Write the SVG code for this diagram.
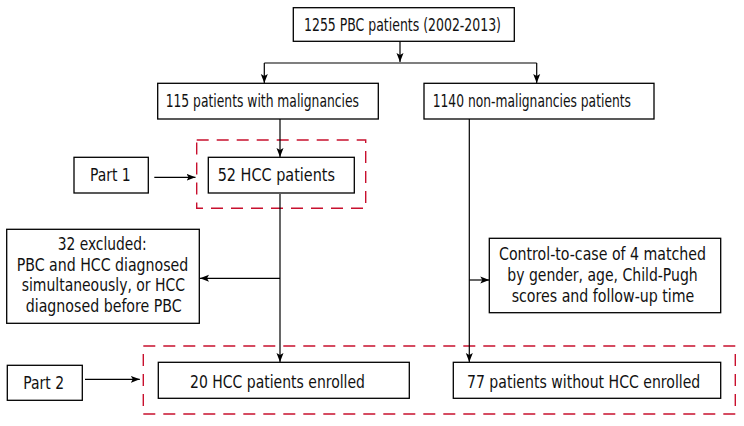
<svg xmlns="http://www.w3.org/2000/svg" width="744" height="426" viewBox="0 0 744 426">
<style>
  .box { fill: #fff; stroke: #000; stroke-width: 1.3; }
  .dash { fill: none; stroke: #c8102e; stroke-width: 1.4; stroke-dasharray: 12 8; }
  .t { font-family: "DejaVu Sans Condensed", "DejaVu Sans", sans-serif; font-stretch: condensed; font-size: 16.8px; fill: #111; }
  .c line { stroke: #000; stroke-width: 1.2; fill: none; }
</style>
<defs>
  <marker id="ah" markerUnits="userSpaceOnUse" markerWidth="10" markerHeight="8" refX="9" refY="4" orient="auto">
    <path d="M0,0.5 L9,4 L0,7.5 L2,4 Z" fill="#000"/>
  </marker>
</defs>
<rect width="744" height="426" fill="#fff"/>

<g id="part1-region">
  <rect class="dash" x="196.7" y="140" width="169" height="68.3"/>
</g>
<g id="part2-region">
  <rect class="dash" x="143.3" y="346" width="592" height="68"/>
</g>

<g class="c" id="connectors">
  <line x1="400" y1="41" x2="400" y2="62" marker-end="url(#ah)"/>
  <line x1="264.3" y1="63" x2="536.7" y2="63"/>
  <line x1="264.3" y1="63" x2="264.3" y2="83" marker-end="url(#ah)"/>
  <line x1="536.7" y1="63" x2="536.7" y2="83" marker-end="url(#ah)"/>
  <line x1="280" y1="119" x2="280" y2="157" marker-end="url(#ah)"/>
  <line x1="154.3" y1="177.3" x2="195.5" y2="177.3" marker-end="url(#ah)"/>
  <line x1="280" y1="194" x2="280" y2="362" marker-end="url(#ah)"/>
  <line x1="280" y1="278.3" x2="200" y2="278.3" marker-end="url(#ah)"/>
  <line x1="469.3" y1="119" x2="469.3" y2="362" marker-end="url(#ah)"/>
  <line x1="469.3" y1="280" x2="489.3" y2="280" marker-end="url(#ah)"/>
  <line x1="85" y1="379.3" x2="139.8" y2="379.3" marker-end="url(#ah)"/>
</g>

<g id="n-total">
  <rect class="box" x="293.3" y="7.7" width="221" height="33.6"/>
  <text class="t" x="304" y="30.7" textLength="197" lengthAdjust="spacingAndGlyphs">1255 PBC patients (2002-2013)</text>
</g>
<g id="n-malig">
  <rect class="box" x="157.7" y="83.3" width="220.6" height="35.7"/>
  <text class="t" x="165.7" y="106.5" textLength="193.3" lengthAdjust="spacingAndGlyphs">115 patients with malignancies</text>
</g>
<g id="n-nonmalig">
  <rect class="box" x="424" y="83.3" width="230" height="35.7"/>
  <text class="t" x="432.7" y="106.5" textLength="198.3" lengthAdjust="spacingAndGlyphs">1140 non-malignancies patients</text>
</g>
<g id="n-part1">
  <rect class="box" x="74" y="157.3" width="74.3" height="35.7"/>
  <text class="t" x="90" y="180.5" textLength="40.7" lengthAdjust="spacingAndGlyphs">Part 1</text>
</g>
<g id="n-hcc52">
  <rect class="box" x="208.3" y="157.3" width="146" height="35.7"/>
  <text class="t" x="217.7" y="181" textLength="117.3" lengthAdjust="spacingAndGlyphs">52 HCC patients</text>
</g>
<g id="n-excluded">
  <rect class="box" x="6.7" y="229.3" width="192.6" height="94"/>
  <text class="t" x="57.7" y="250" textLength="89" lengthAdjust="spacingAndGlyphs">32 excluded:</text>
  <text class="t" x="16.7" y="270.7" textLength="171.6" lengthAdjust="spacingAndGlyphs">PBC and HCC diagnosed</text>
  <text class="t" x="21.7" y="291" textLength="163.3" lengthAdjust="spacingAndGlyphs">simultaneously, or HCC</text>
  <text class="t" x="25.7" y="311.5" textLength="156" lengthAdjust="spacingAndGlyphs">diagnosed before PBC</text>
</g>
<g id="n-control">
  <rect class="box" x="489.3" y="238.3" width="231.4" height="74.4"/>
  <text class="t" x="499" y="260" textLength="207" lengthAdjust="spacingAndGlyphs">Control-to-case of 4 matched</text>
  <text class="t" x="507.3" y="280.7" textLength="190.4" lengthAdjust="spacingAndGlyphs">by gender, age, Child-Pugh</text>
  <text class="t" x="511.7" y="301.5" textLength="182.6" lengthAdjust="spacingAndGlyphs">scores and follow-up time</text>
</g>
<g id="n-part2">
  <rect class="box" x="7.3" y="365.3" width="75" height="35"/>
  <text class="t" x="23.3" y="389" textLength="40.7" lengthAdjust="spacingAndGlyphs">Part 2</text>
</g>
<g id="n-hcc20">
  <rect class="box" x="158.3" y="362.3" width="251" height="36"/>
  <text class="t" x="190" y="388.3" textLength="175" lengthAdjust="spacingAndGlyphs">20 HCC patients enrolled</text>
</g>
<g id="n-nohcc77">
  <rect class="box" x="453.3" y="362.3" width="267.4" height="36"/>
  <text class="t" x="467" y="388.3" textLength="233.3" lengthAdjust="spacingAndGlyphs">77 patients without HCC enrolled</text>
</g>
</svg>
